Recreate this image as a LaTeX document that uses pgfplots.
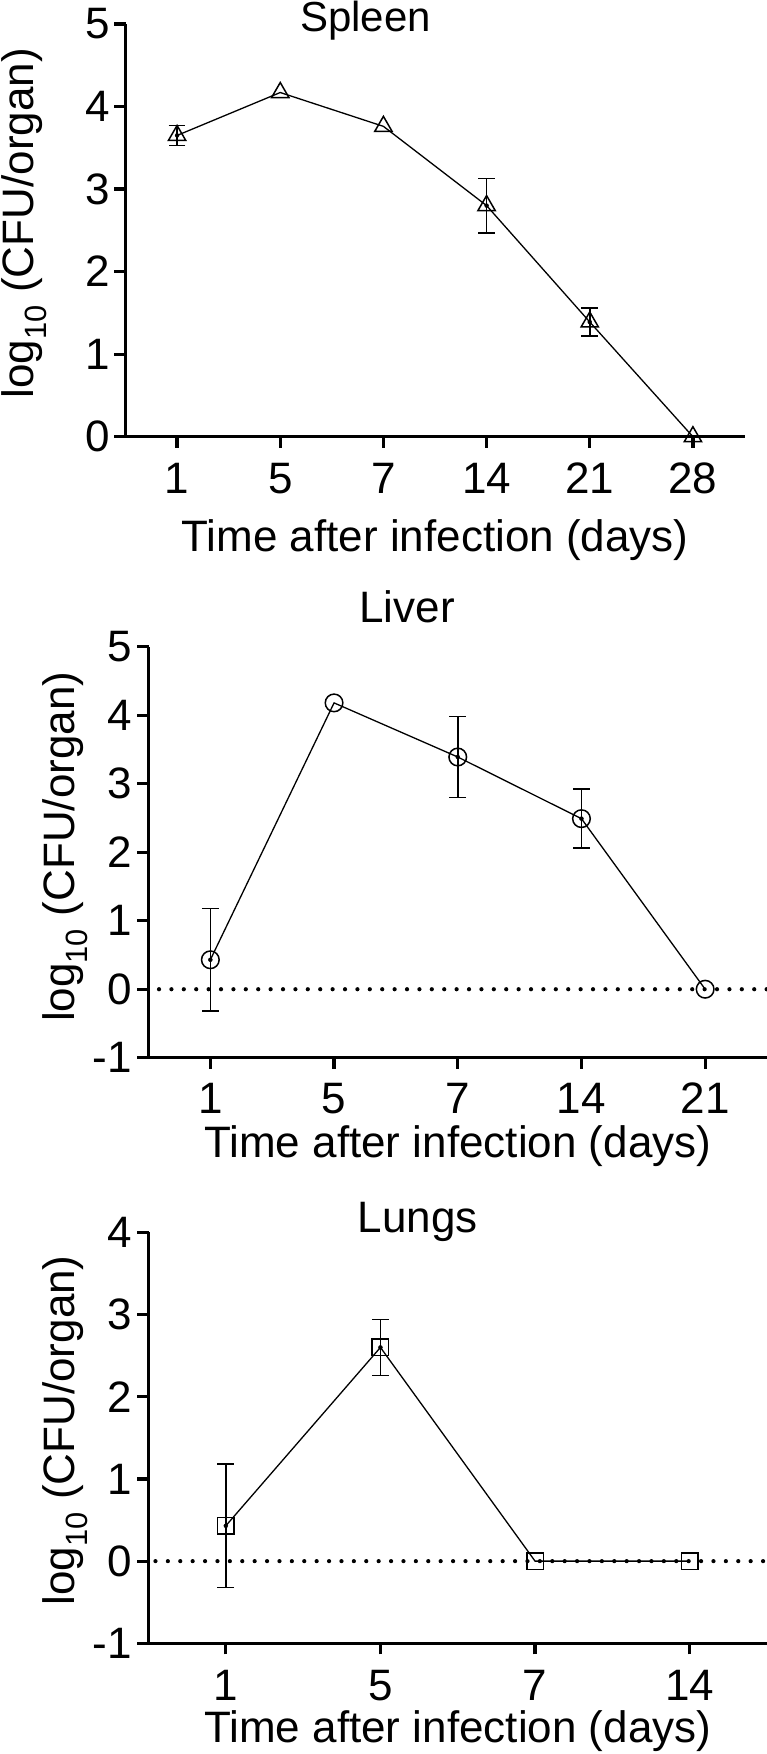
\documentclass[border=0pt]{standalone}
\usepackage{fontspec}
\setmainfont{Liberation Sans}
\usepackage{pgfplots}
\pgfplotsset{compat=1.18}

\pgfplotsset{
  organ/.style={
    scale only axis,
    axis lines=left,
    axis line style={-, line width=3.2bp},
    x axis line style={shorten <=-11bp},
    tick align=outside,
    major tick length=11bp,
    tick style={line width=3.2bp, black},
    tick label style={font=\fontsize{44bp}{50bp}\selectfont},
    label style={font=\fontsize{44bp}{50bp}\selectfont},
    every axis title shift=0pt,
    title style={font=\fontsize{44bp}{50bp}\selectfont, anchor=base},
    xticklabel style={anchor=base, inner sep=0pt, yshift=-45.6bp},
    yticklabel style={anchor=east, inner sep=0pt},
    xlabel style={anchor=base},
    ylabel style={anchor=base},
    clip=false,
    xlabel={Time after infection (days)},
    ylabel={log\textsubscript{10} (CFU/organ)},
  },
  dataline/.style={black, line width=1.3bp, mark options={fill=white, line width=1.5bp, solid}},
  errs/.style={only marks, mark=none, black,
    error bars/.cd, y dir=both, y explicit,
    error bar style={line width=1.5bp, black},
    error mark options={rotate=90, mark size=8.4bp, line width=1.5bp, black}},
  zeroline/.style={black, line width=4.2bp, line cap=round, dash pattern=on 0bp off 12.4bp},
}

\begin{document}
\begin{tikzpicture}[x=1bp, y=1bp]
\useasboundingbox (0,0) rectangle (767,-1754);

% Spleen
\begin{axis}[organ,
  at={(125.5bp,-436.7bp)}, anchor=south west,
  width=619bp, height=412.7bp,
  xmin=-0.5, xmax=5.5, ymin=0, ymax=5,
  xtick={0,1,2,3,4,5}, xticklabels={1,5,7,14,21,28},
  ytick={0,1,2,3,4,5}, yticklabels={0,1,2,3,4,5},
  yticklabel style={xshift=-4.5bp},
  title={Spleen},
  title style={font=\fontsize{42bp}{48bp}\selectfont, at={(axis description cs:0.388,0.983)}},
  xlabel style={at={(axis description cs:0.5,-0.278)}},
  ylabel style={at={(axis description cs:-0.148,0.517)}},
]
\addplot[dataline, mark=triangle, mark size=10bp] table[x=x, y=y] {
x y
0 3.65
1 4.17
2 3.76
3 2.80
4 1.39
5 0.00
};
\addplot[errs] table[x=x, y=y, y error=e] {
x y e
0 3.65 0.12
3 2.80 0.33
4 1.39 0.17
};
\end{axis}

% Liver
\begin{axis}[organ,
  at={(148.5bp,-1057.7bp)}, anchor=south west,
  width=618.5bp, height=411bp,
  xmin=-0.5, xmax=4.5, ymin=-1, ymax=5,
  xtick={0,1,2,3,4}, xticklabels={1,5,7,14,21},
  ytick={-1,0,1,2,3,4,5}, yticklabels={-1,0,1,2,3,4,5},
  xticklabel style={yshift=1bp},
  yticklabel style={xshift=-5.3bp},
  title={Liver}, title style={at={(axis description cs:0.418,1.058)}},
  xlabel style={at={(axis description cs:0.5,-0.242)}},
  ylabel style={at={(axis description cs:-0.12,0.513)}},
]
\addplot[zeroline] coordinates {(-0.415,0) (4.5,0)};
\addplot[dataline, mark=o, mark size=8.8bp] table[x=x, y=y] {
x y
0 0.43
1 4.18
2 3.39
3 2.49
4 0.00
};
\addplot[errs] table[x=x, y=y, y error=e] {
x y e
0 0.43 0.75
2 3.39 0.59
3 2.49 0.43
};
\end{axis}

% Lungs
\begin{axis}[organ,
  at={(148.5bp,-1643.3bp)}, anchor=south west,
  width=618.5bp, height=411bp,
  xmin=-0.5, xmax=3.5, ymin=-1, ymax=4,
  xtick={0,1,2,3}, xticklabels={1,5,7,14},
  ytick={-1,0,1,2,3,4}, yticklabels={-1,0,1,2,3,4},
  xticklabel style={yshift=-0.1bp},
  yticklabel style={xshift=-5.3bp},
  title={Lungs}, title style={at={(axis description cs:0.435,1.0)}},
  xlabel style={at={(axis description cs:0.5,-0.241)}},
  ylabel style={at={(axis description cs:-0.12,0.518)}},
]
\addplot[zeroline] coordinates {(-0.455,0) (3.5,0)};
\addplot[dataline, mark=square, mark size=8.3bp] table[x=x, y=y] {
x y
0 0.43
1 2.60
2 0.00
3 0.00
};
\addplot[errs] table[x=x, y=y, y error=e] {
x y e
0 0.43 0.75
1 2.60 0.34
};
\end{axis}
\end{tikzpicture}
\end{document}
